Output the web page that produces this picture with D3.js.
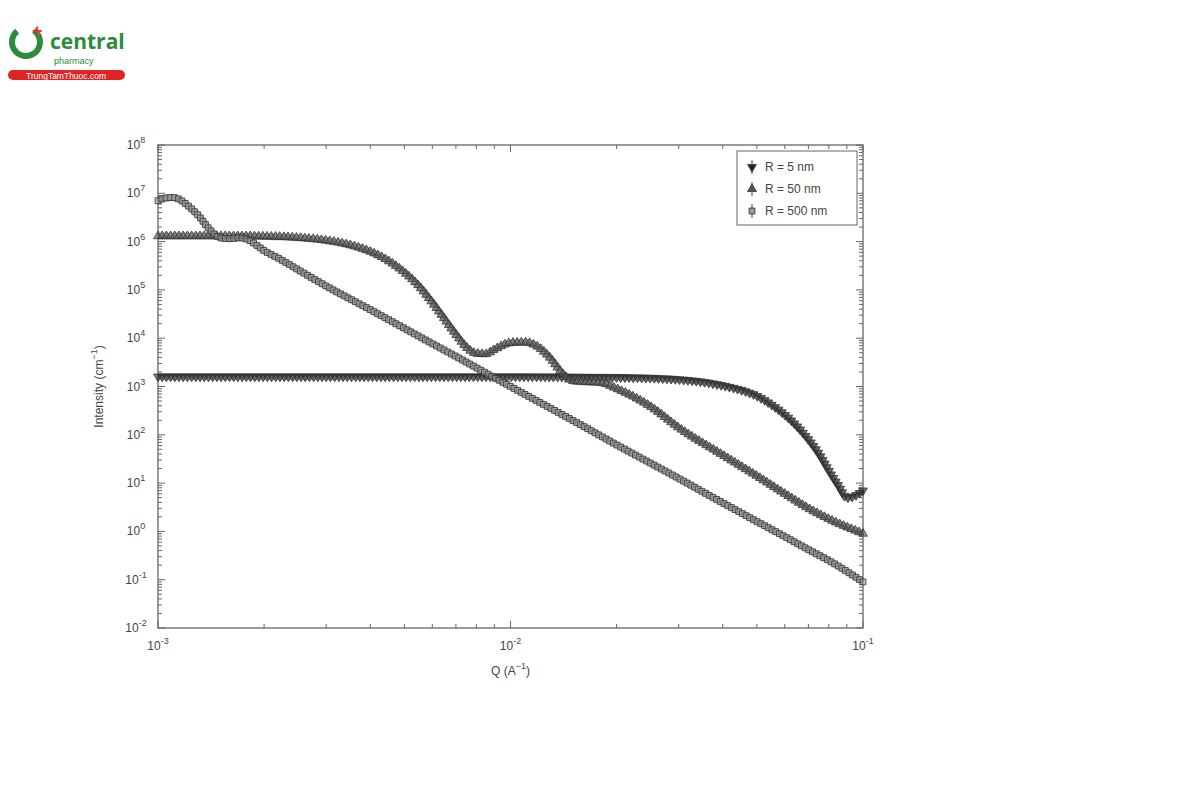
<!DOCTYPE html>
<html><head><meta charset="utf-8">
<script src="https://cdn.jsdelivr.net/npm/d3@7"></script>
<style>body{margin:0;background:#fff;font-family:"Liberation Sans",Arial,sans-serif}</style>
</head><body>
<svg id="chart" width="1200" height="800"></svg>
<script>
// values (Q in 1/A, intensity in 1/cm)
const q5 = [1e-3,1.5e-3,2e-3,3e-3,5e-3,7e-3,1e-2,1.5e-2,2e-2,2.5e-2,3e-2,3.5e-2,4e-2,4.5e-2,5e-2,5.5e-2,6e-2,6.5e-2,7e-2,7.5e-2,8e-2,8.5e-2,9e-2,9.5e-2,1e-1];
const i5 = [1600,1600,1600,1600,1600,1600,1600,1580,1550,1500,1400,1250,1050,850,640,420,260,150,80,40,18,9,5,5.5,7];

const q50 = [1e-3,1.3e-3,1.6e-3,2e-3,2.5e-3,3e-3,3.5e-3,4e-3,4.5e-3,5e-3,5.5e-3,6e-3,6.5e-3,7e-3,7.5e-3,8e-3,8.5e-3,9e-3,1e-2,1.1e-2,1.2e-2,1.3e-2,1.4e-2,1.5e-2,1.6e-2,1.8e-2,2e-2,2.5e-2,3e-2,4e-2,5e-2,6e-2,7e-2,8e-2,1e-1];
const i50 = [1.3e6,1.3e6,1.3e6,1.28e6,1.2e6,1.05e6,8.5e5,6.2e5,4e5,2.3e5,1.2e5,5.5e4,2.5e4,1.2e4,6500,4800,4700,5800,8000,8200,6500,3800,1900,1300,1250,1200,900,380,140,38,14,6,3,1.8,0.9];

const q500 = [1e-3,1.05e-3,1.1e-3,1.15e-3,1.2e-3,1.3e-3,1.4e-3,1.5e-3,1.6e-3,1.7e-3,1.8e-3,1.9e-3,2e-3,2.2e-3,2.5e-3,3e-3,4e-3,5e-3,6e-3,7e-3,8e-3,1e-2,1.5e-2,2e-2,3e-2,4e-2,5e-2,6e-2,7e-2,8e-2,1e-1];
const i500 = [7e6,8e6,8.2e6,7.5e6,6e6,3.5e6,1.8e6,1.2e6,1.15e6,1.2e6,1.1e6,8.5e5,6.5e5,4.5e5,2.6e5,1.2e5,3.9e4,1.6e4,7700,4200,2450,1000,200,62,12.5,3.9,1.6,0.78,0.42,0.25,0.09];

const xTicks = [1e-3,1e-2,1e-1];
const yTicks = [1e-2,1e-1,1e0,1e1,1e2,1e3,1e4,1e5,1e6,1e7,1e8];
const legendLabels = ["R = 5 nm","R = 50 nm","R = 500 nm"];

const svg = d3.select("#chart");
const L=158,R=863,T=145,B=628;
const x = d3.scaleLog().domain([1e-3,1e-1]).range([L,R]);
const y = d3.scaleLog().domain([1e-2,1e8]).range([B,T]);

// logo
const logo = svg.append("g");
logo.append("path").attr("d",d3.arc()({innerRadius:11,outerRadius:17,startAngle:0.6,endAngle:5.6})).attr("transform","translate(26,42)").attr("fill","#2e8b3d");
logo.append("text").attr("x",32).attr("y",37).attr("fill","#e53935").attr("font-size",18).attr("font-weight","bold").text("+");
logo.append("text").attr("x",50).attr("y",49).attr("fill","#2e8b3d").attr("font-size",21).attr("font-weight","bold").attr("font-family","Open Sans").text("central");
logo.append("text").attr("x",54).attr("y",64).attr("fill","#2e8b3d").attr("font-size",9).text("pharmacy");
logo.append("rect").attr("x",8).attr("y",70).attr("width",117).attr("height",10).attr("rx",5).attr("fill","#e02424");
logo.append("text").attr("x",66).attr("y",78.5).attr("fill","#fff").attr("font-size",8.5).attr("text-anchor","middle").text("TrungTamThuoc.com");

// axes frame and ticks
svg.append("rect").attr("x",L).attr("y",T).attr("width",R-L).attr("height",B-T).attr("fill","none").attr("stroke","#666").attr("stroke-width",1.3);
const minorX = [];
[1e-3,1e-2].forEach(d=>{for(let k=2;k<10;k++) minorX.push(d*k);});
const minorY = [];
yTicks.slice(0,-1).forEach(d=>{for(let k=2;k<10;k++) minorY.push(d*k);});
const tk = svg.append("g").attr("stroke","#666");
xTicks.concat(minorX).forEach(v=>{
  const len = xTicks.includes(v)?7:4;
  tk.append("line").attr("x1",x(v)).attr("x2",x(v)).attr("y1",B).attr("y2",B-len);
  tk.append("line").attr("x1",x(v)).attr("x2",x(v)).attr("y1",T).attr("y2",T+len);
});
yTicks.concat(minorY).forEach(v=>{
  const len = yTicks.includes(v)?7:4;
  tk.append("line").attr("y1",y(v)).attr("y2",y(v)).attr("x1",L).attr("x2",L+len);
  tk.append("line").attr("y1",y(v)).attr("y2",y(v)).attr("x1",R).attr("x2",R-len);
});
const lab = svg.append("g").attr("fill","#444").attr("font-size",12);
xTicks.forEach(v=>{
  const t = lab.append("text").attr("x",x(v)).attr("y",B+22).attr("text-anchor","middle");
  t.append("tspan").text("10");
  t.append("tspan").attr("dy",-6).attr("font-size",9).text(Math.round(Math.log10(v)));
});
yTicks.forEach(v=>{
  const t = lab.append("text").attr("x",L-22).attr("y",y(v)+4).attr("text-anchor","middle");
  t.append("tspan").text("10");
  t.append("tspan").attr("dy",-6).attr("font-size",9).text(Math.round(Math.log10(v)));
});
const xl = lab.append("text").attr("x",(L+R)/2).attr("y",B+47).attr("text-anchor","middle");
xl.append("tspan").text("Q (A");xl.append("tspan").attr("dy",-6).attr("font-size",9).text("−1");xl.append("tspan").attr("dy",6).text(")");
const yl = lab.append("text").attr("transform",`translate(${L-55},${(T+B)/2}) rotate(-90)`).attr("text-anchor","middle");
yl.append("tspan").text("Intensity (cm");yl.append("tspan").attr("dy",-6).attr("font-size",9).text("−1");yl.append("tspan").attr("dy",6).text(")");

// series
const series = [
  {q:q5,i:i5,sym:d3.symbolTriangle,rot:180,fill:"#222"},
  {q:q50,i:i50,sym:d3.symbolTriangle,rot:0,fill:"#555"},
  {q:q500,i:i500,sym:d3.symbolSquare,rot:0,fill:"#999"}
];
const line = d3.line().x(d=>x(d[0])).y(d=>y(d[1])).curve(d3.curveMonotoneX);
series.forEach(s=>{
  const pts = s.q.map((v,k)=>[v,s.i[k]]);
  const path = svg.append("path").attr("d",line(pts)).attr("fill","none").attr("stroke","#444").attr("stroke-width",7).attr("opacity",0.35);
  // markers along the curve through the read points
  const node = path.node(), len = node.getTotalLength();
  const n = Math.round(len/4.2);
  const g = svg.append("g");
  for(let k=0;k<=n;k++){
    const p = node.getPointAtLength(len*k/n);
    g.append("path").attr("d",d3.symbol(s.sym,34)()).attr("transform",`translate(${p.x},${p.y}) rotate(${s.rot})`)
      .attr("fill",s.fill).attr("fill-opacity",0.6).attr("stroke","#333").attr("stroke-width",0.8);
  }
});

// legend
const lg = svg.append("g");
lg.append("rect").attr("x",737).attr("y",151).attr("width",120).attr("height",74).attr("fill","#fff").attr("stroke","#666");
legendLabels.forEach((t,k)=>{
  const yy = 167+k*22, s=series[k];
  lg.append("line").attr("x1",752).attr("x2",752).attr("y1",yy-7).attr("y2",yy+7).attr("stroke","#444");
  lg.append("path").attr("d",d3.symbol(s.sym,34)()).attr("transform",`translate(752,${yy}) rotate(${s.rot})`).attr("fill",s.fill).attr("stroke","#444");
  lg.append("text").attr("x",765).attr("y",yy+4).attr("font-size",12).attr("fill","#444").text(t);
});
</script>
</body></html>
